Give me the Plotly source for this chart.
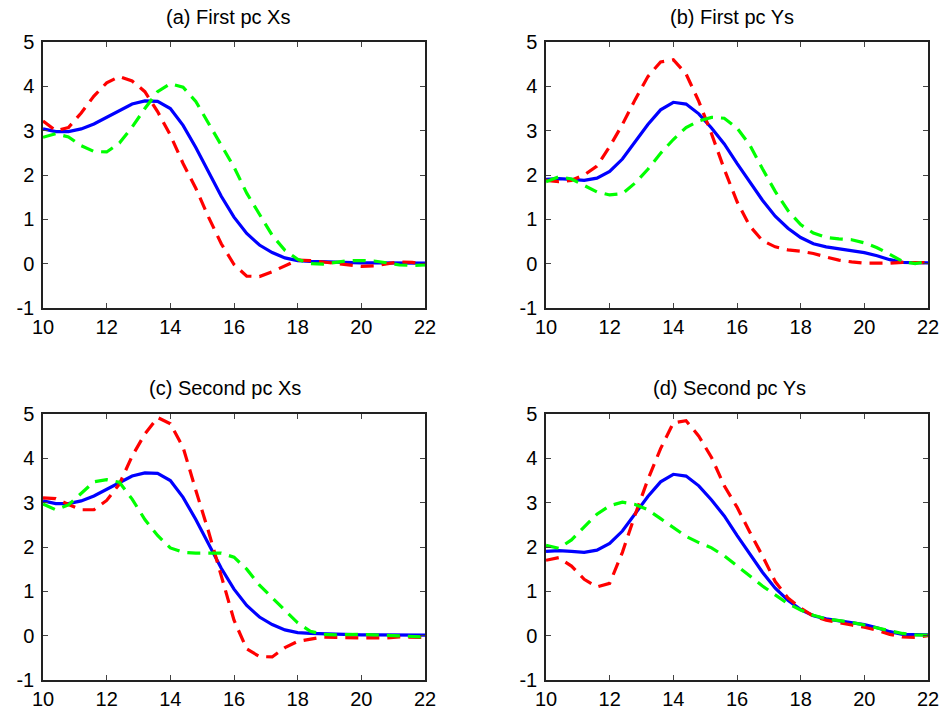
import plotly.graph_objects as go

age = [10.0, 10.4, 10.8, 11.2, 11.6, 12.0, 12.4, 12.8, 13.2, 13.6, 14.0, 14.4, 14.8, 15.2, 15.6,
       16.0, 16.4, 16.8, 17.2, 17.6, 18.0, 18.4, 18.8, 19.2, 19.6, 20.0, 20.4, 20.8, 21.2, 21.6, 22.0]

# baseline (solid blue) curves
base_xs = [3.04, 2.98, 2.98, 3.04, 3.15, 3.30, 3.46, 3.60, 3.67, 3.66, 3.50, 3.12, 2.62, 2.08, 1.52,
           1.05, 0.68, 0.42, 0.25, 0.13, 0.07, 0.05, 0.04, 0.03, 0.03, 0.02, 0.02, 0.02, 0.01, 0.01, 0.01]
base_ys = [1.90, 1.92, 1.90, 1.88, 1.93, 2.08, 2.36, 2.74, 3.14, 3.47, 3.64, 3.60, 3.38, 3.06, 2.70,
           2.26, 1.85, 1.43, 1.07, 0.80, 0.59, 0.45, 0.38, 0.34, 0.30, 0.25, 0.18, 0.09, 0.03, 0.02, 0.02]

# (a) First pc Xs
a_red = [3.22, 3.00, 3.07, 3.40, 3.78, 4.08, 4.22, 4.12, 3.88, 3.43, 2.90, 2.26, 1.70, 1.05, 0.45,
         -0.02, -0.28, -0.29, -0.18, -0.05, 0.08, 0.07, 0.04, 0.01, -0.03, -0.06, -0.05, 0.00, 0.04, 0.03, -0.02]
a_green = [2.85, 2.93, 2.86, 2.66, 2.53, 2.52, 2.72, 3.08, 3.50, 3.88, 4.06, 3.98, 3.66, 3.17, 2.70,
           2.18, 1.59, 1.10, 0.64, 0.30, 0.10, 0.00, -0.01, 0.03, 0.07, 0.07, 0.06, 0.02, -0.03, -0.04, -0.03]
# (b) First pc Ys
b_red = [1.88, 1.85, 1.88, 2.00, 2.20, 2.64, 3.14, 3.70, 4.22, 4.55, 4.60, 4.28, 3.66, 2.93, 2.13,
         1.40, 0.85, 0.52, 0.38, 0.31, 0.28, 0.23, 0.15, 0.08, 0.04, 0.01, 0.01, 0.01, 0.03, 0.03, 0.02]
b_green = [1.85, 1.96, 1.91, 1.76, 1.62, 1.55, 1.58, 1.82, 2.13, 2.49, 2.80, 3.07, 3.22, 3.30, 3.28,
           3.06, 2.68, 2.14, 1.63, 1.20, 0.88, 0.69, 0.59, 0.56, 0.54, 0.47, 0.36, 0.21, 0.05, 0.00, 0.05]
# (c) Second pc Xs
c_red = [3.11, 3.09, 2.96, 2.84, 2.84, 3.05, 3.42, 4.05, 4.55, 4.92, 4.78, 4.25, 3.28, 2.35, 1.35,
         0.35, -0.30, -0.47, -0.48, -0.27, -0.13, -0.08, -0.03, -0.04, -0.05, -0.05, -0.05, -0.05, -0.03, -0.03, -0.04]
c_green = [2.97, 2.84, 2.95, 3.22, 3.47, 3.52, 3.46, 3.08, 2.62, 2.26, 1.98, 1.88, 1.86, 1.86, 1.86,
           1.77, 1.50, 1.14, 0.86, 0.57, 0.29, 0.10, 0.03, 0.02, 0.03, 0.03, 0.02, 0.01, -0.01, -0.02, -0.03]
# (d) Second pc Ys
d_red = [1.70, 1.76, 1.57, 1.27, 1.10, 1.18, 1.88, 2.73, 3.52, 4.22, 4.80, 4.85, 4.50, 4.02, 3.38,
         2.90, 2.34, 1.80, 1.22, 0.85, 0.62, 0.44, 0.35, 0.29, 0.24, 0.19, 0.12, 0.03, -0.03, -0.04, 0.00]
d_green = [2.04, 1.97, 2.16, 2.45, 2.74, 2.93, 3.01, 2.96, 2.84, 2.64, 2.43, 2.24, 2.10, 1.98, 1.80,
           1.57, 1.34, 1.12, 0.92, 0.72, 0.58, 0.46, 0.38, 0.34, 0.30, 0.24, 0.17, 0.11, 0.05, 0.02, 0.01]

titles = ["(a) First pc Xs", "(b) First pc Ys", "(c) Second pc Xs", "(d) Second pc Ys"]
panels = [(base_xs, a_red, a_green), (base_ys, b_red, b_green),
          (base_xs, c_red, c_green), (base_ys, d_red, d_green)]

x_ticks = [10, 12, 14, 16, 18, 20, 22]
x_tick_text = ["10", "12", "14", "16", "18", "20", "22"]
y_ticks = [-1, 0, 1, 2, 3, 4, 5]
y_tick_text = ["-1", "0", "1", "2", "3", "4", "5"]

W, H = 939, 712
x_doms = [(43 / W, 425 / W), (546 / W, 928 / W)]
y_doms = [(1 - 308 / H, 1 - 42 / H), (1 - 680 / H, 1 - 414 / H)]

fig = go.Figure()
DASH = "13px,8px"
for i, (blue, red, green) in enumerate(panels):
    n = "" if i == 0 else str(i + 1)
    xa, ya = "x" + n, "y" + n
    fig.add_trace(go.Scatter(x=age, y=blue, mode="lines", xaxis=xa, yaxis=ya,
                             line=dict(color="#0000FF", width=3.2), showlegend=False))
    fig.add_trace(go.Scatter(x=age, y=red, mode="lines", xaxis=xa, yaxis=ya,
                             line=dict(color="#FF0000", width=3.2, dash=DASH), showlegend=False))
    fig.add_trace(go.Scatter(x=age, y=green, mode="lines", xaxis=xa, yaxis=ya,
                             line=dict(color="#00FF00", width=3.2, dash=DASH), showlegend=False))

axis_common = dict(showgrid=False, zeroline=False, showline=True, linecolor="#222222", linewidth=1.5,
                   mirror="ticks", ticks="inside", ticklen=5, tickwidth=1, tickcolor="#444444",
                   automargin=False, ticklabeloverflow="allow",
                   tickfont=dict(family="Liberation Sans, Arial", size=20, color="black"))
layout = dict(width=W, height=H, margin=dict(l=0, r=0, t=0, b=0),
              paper_bgcolor="white", plot_bgcolor="white")
for i in range(4):
    n = "" if i == 0 else str(i + 1)
    col, row = i % 2, i // 2
    layout["xaxis" + n] = dict(axis_common, domain=list(x_doms[col]), range=[10, 22],
                               tickvals=x_ticks, ticktext=x_tick_text, anchor="y" + n,
                               ticklabelstandoff=0)
    layout["yaxis" + n] = dict(axis_common, domain=list(y_doms[row]), range=[-1, 5],
                               tickvals=y_ticks, ticktext=y_tick_text, anchor="x" + n,
                               ticklabelstandoff=3)
fig.update_layout(**layout)

title_pos = [(228, 17), (732, 17), (225, 388), (729, 388)]
for t, (px, py) in zip(titles, title_pos):
    fig.add_annotation(text=t, xref="paper", yref="paper", x=px / W, y=1 - py / H,
                       xanchor="center", yanchor="middle", showarrow=False,
                       font=dict(family="Liberation Sans, Arial", size=20, color="black"))

fig.write_html("out.html")
